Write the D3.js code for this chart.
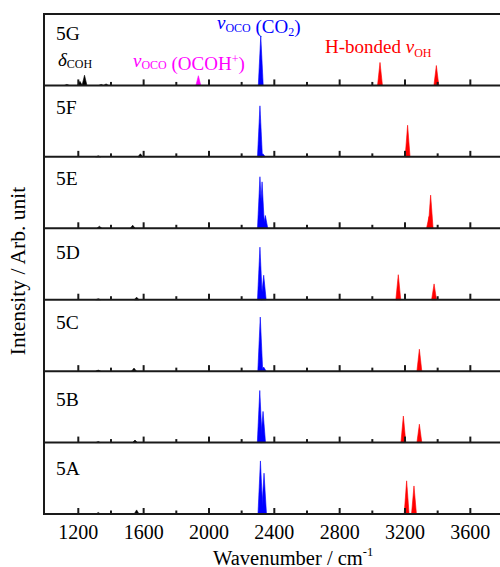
<!DOCTYPE html>
<html>
<head>
<meta charset="utf-8">
<script src="https://cdn.jsdelivr.net/npm/d3@7"></script>
<style>
  html, body { margin: 0; padding: 0; background: #fff; }
  svg { display: block; }
  text { font-family: "Liberation Serif", "Times New Roman", serif; }
</style>
</head>
<body>
<svg id="chart" width="500" height="567"></svg>
<script>
// ---------------- data ----------------
const panels = ["5G", "5F", "5E", "5D", "5C", "5B", "5A"];   // top to bottom
const majorTicks = [1200, 1600, 2000, 2400, 2800, 3200, 3600];
const minorTicks = [1400, 1800, 2200, 2600, 3000, 3400];
const xDomain = [990, 3800];
const yDomain = [0, 140];

// ν_OCO (CO2) peaks : [panel, wavenumber, intensity]
const co2Peaks = [
  ["5G", 2317, 97],
  ["5F", 2312, 100], ["5F", 2330, 6],
  ["5E", 2312, 101], ["5E", 2325, 91], ["5E", 2345, 25],
  ["5D", 2312, 103], ["5D", 2335, 48],
  ["5C", 2314, 106], ["5C", 2335, 8],
  ["5B", 2311, 102], ["5B", 2331, 61],
  ["5A", 2315, 104], ["5A", 2337, 80]
];
// H-bonded ν_OH peaks
const ohPeaks = [
  ["5G", 3047, 45], ["5G", 3392, 39],
  ["5F", 3216, 62],
  ["5E", 3347, 23], ["5E", 3357, 65],
  ["5D", 3159, 49], ["5D", 3378, 31],
  ["5C", 3288, 43],
  ["5B", 3190, 52], ["5B", 3288, 36],
  ["5A", 3210, 65], ["5A", 3255, 55]
];
// ν_OCO (OCOH+) peaks
const ocohPeaks = [
  ["5G", 1935, 19]
];
// δ_COH and other weak modes
const cohPeaks = [
  ["5G", 1130, 2], ["5G", 1210, 8], ["5G", 1238, 20], ["5G", 1340, 2], ["5G", 1370, 3],
  ["5F", 1322, 2], ["5F", 1580, 6],
  ["5E", 1329, 4], ["5E", 1533, 6],
  ["5D", 1322, 2], ["5D", 1557, 5],
  ["5C", 1322, 2], ["5C", 1541, 6],
  ["5B", 1322, 2], ["5B", 1547, 5],
  ["5A", 1322, 3], ["5A", 1557, 8]
];

// ---------------- layout / style ----------------
const mLeft = 44, mRight = 503, mTop = 14, mBottom = 514;
const panelH = (mBottom - mTop) / panels.length;
const halfWidth = 15;           // half base width of a drawn peak (cm-1)
const labelOffsets = [26, 29, 28.5, 31, 29.5, 35, 32];
const axisColor = "#1a1a1a";

const svg = d3.select("#chart");

const x = d3.scaleLinear().domain(xDomain).range([mLeft, mRight]);
const y = d3.scaleLinear().domain(yDomain).range([panelH, 0]);

const peakArea = d3.area()
  .x(d => x(d[0]))
  .y0(y(0))
  .y1(d => y(d[1]));

const series = [
  { data: cohPeaks, color: "#000000" },
  { data: ocohPeaks, color: "#ff00ff" },
  { data: co2Peaks, color: "#0000ff" },
  { data: ohPeaks, color: "#ff0000" }
];

panels.forEach((p, i) => {
  const g = svg.append("g").attr("transform", `translate(0,${mTop + i * panelH})`);

  // peaks
  series.forEach(s => {
    s.data.filter(d => d[0] === p).forEach(d => {
      const pts = [[d[1] - halfWidth, 0], [d[1], d[2]], [d[1] + halfWidth, 0]];
      g.append("path")
        .attr("d", peakArea(pts))
        .attr("fill", s.color)
        .attr("stroke", s.color)
        .attr("stroke-width", 0.6);
    });
  });

  // inward ticks on the panel's bottom axis
  g.selectAll(".maj").data(majorTicks).enter().append("line")
    .attr("x1", d => x(d)).attr("x2", d => x(d))
    .attr("y1", panelH).attr("y2", panelH - 6)
    .attr("stroke", axisColor).attr("stroke-width", 2);
  g.selectAll(".min").data(minorTicks).enter().append("line")
    .attr("x1", d => x(d)).attr("x2", d => x(d))
    .attr("y1", panelH).attr("y2", panelH - 3.5)
    .attr("stroke", axisColor).attr("stroke-width", 2);

  // bottom axis line
  g.append("line")
    .attr("x1", mLeft).attr("x2", mRight)
    .attr("y1", panelH).attr("y2", panelH)
    .attr("stroke", axisColor).attr("stroke-width", 2);

  // panel label
  g.append("text")
    .attr("x", 56).attr("y", labelOffsets[i])
    .attr("font-size", 19.5).attr("fill", "#000")
    .text(p);
});

// frame: top and side lines
svg.append("line").attr("x1", mLeft).attr("x2", mRight).attr("y1", mTop).attr("y2", mTop)
  .attr("stroke", axisColor).attr("stroke-width", 2);
svg.append("line").attr("x1", mLeft).attr("x2", mLeft).attr("y1", mTop - 1).attr("y2", mBottom + 1)
  .attr("stroke", axisColor).attr("stroke-width", 2);
svg.append("line").attr("x1", mRight).attr("x2", mRight).attr("y1", mTop - 1).attr("y2", mBottom + 1)
  .attr("stroke", axisColor).attr("stroke-width", 2);

// x tick labels (bottom panel)
svg.selectAll(".xl").data(majorTicks).enter().append("text")
  .attr("x", d => x(d)).attr("y", 538.5)
  .attr("text-anchor", "middle").attr("font-size", 20).attr("fill", "#000")
  .text(d => d);

// x axis title
const xt = svg.append("text").attr("x", 213).attr("y", 564.5).attr("font-size", 20.5).attr("fill", "#000");
xt.append("tspan").text("Wavenumber / cm");
xt.append("tspan").attr("y", 556).attr("font-size", 12.5).text("-1");

// y axis title
svg.append("text")
  .attr("transform", "translate(25,271) rotate(-90)")
  .attr("text-anchor", "middle").attr("font-size", 21.5).attr("fill", "#000")
  .text("Intensity / Arb. unit");

// annotations
function rich(xp, color, parts) {
  const t = svg.append("text").attr("x", xp).attr("fill", color).attr("font-size", 19);
  parts.forEach(pt => {
    const s = t.append("tspan").attr("y", pt.y).text(pt.t);
    if (pt.size) s.attr("font-size", pt.size);
    if (pt.italic) s.attr("font-style", "italic");
  });
  return t;
}

rich(58, "#000", [
  { t: "δ", y: 65.5, italic: true },
  { t: "COH", y: 67.5, size: 12 }
]);
rich(133, "#ff00ff", [
  { t: "ν", y: 66.7, italic: true },
  { t: "OCO", y: 68.5, size: 12 },
  { t: " (OCOH", y: 70 },
  { t: "+", y: 63, size: 12 },
  { t: ")", y: 70 }
]);
rich(217, "#0000ff", [
  { t: "ν", y: 28.5, italic: true },
  { t: "OCO", y: 31.5, size: 12 },
  { t: " (CO", y: 32.7 },
  { t: "2", y: 35.5, size: 12 },
  { t: ")", y: 32.7 }
]);
rich(325, "#ff0000", [
  { t: "H-bonded ", y: 53.3 },
  { t: "ν", y: 53.3, italic: true },
  { t: "OH", y: 56.7, size: 12 }
]);
</script>
</body>
</html>
